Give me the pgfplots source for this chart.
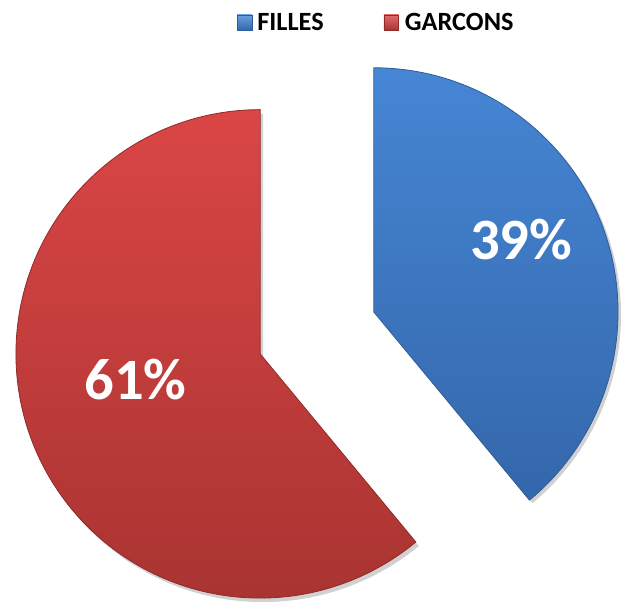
\documentclass[border=0pt]{standalone}
\usepackage{pgfplots}
\pgfplotsset{compat=1.18}
\usepackage{fontspec}
\setmainfont{Carlito}
\definecolor{bluetop}{HTML}{4686D4}
\definecolor{bluebot}{HTML}{3467AB}
\definecolor{blueedge}{HTML}{2E5C98}
\definecolor{redtop}{HTML}{DA4646}
\definecolor{redbot}{HTML}{A93431}
\definecolor{rededge}{HTML}{8E2A28}
\begin{document}
\begin{tikzpicture}
\begin{axis}[
  width=621bp, height=601bp, scale only axis,
  xmin=0, xmax=621, ymin=0, ymax=601,
  hide axis, clip=false]
\path (axis cs:0,0) rectangle (axis cs:621,601);
\def\filles{39}
\def\garcons{61}
\pgfmathsetmacro{\endang}{90-3.6*\filles}
% shadows
\fill[black!18] (axis cs:378,285) -- ++(90:245bp) arc[start angle=90, end angle=\endang, radius=245bp] -- cycle;
\fill[black!18] (axis cs:264,242) -- ++(90:245bp) arc[start angle=90, end angle={\endang+360}, radius=245bp] -- cycle;
% FILLES slice
\shade[top color=bluetop, bottom color=bluebot, draw=blueedge, line width=0.8bp]
  (axis cs:375,288) -- ++(90:245bp) arc[start angle=90, end angle=\endang, radius=245bp] -- cycle;
% GARCONS slice
\shade[top color=redtop, bottom color=redbot, draw=rededge, line width=0.8bp]
  (axis cs:261,246) -- ++(90:245bp) arc[start angle=90, end angle={\endang+360}, radius=245bp] -- cycle;
% labels
\node[text=white, font=\bfseries\fontsize{59}{61}\selectfont] at (axis cs:523,361) {\filles\%};
\node[text=white, font=\bfseries\fontsize{59}{61}\selectfont] at (axis cs:136,220) {\garcons\%};
% legend
\shade[top color=bluetop!80!white, bottom color=bluebot, draw=blueedge, line width=0.5bp] (axis cs:238,571) rectangle (axis cs:253,586);
\node[anchor=west, inner sep=0pt, font=\bfseries\fontsize{26.5}{28}\selectfont] at (axis cs:258,578.5) {FILLES};
\shade[top color=redtop!80!white, bottom color=redbot, draw=rededge, line width=0.5bp] (axis cs:385,571) rectangle (axis cs:400,586);
\node[anchor=west, inner sep=0pt, font=\bfseries\fontsize{26.5}{28}\selectfont] at (axis cs:406,578.5) {GARCONS};
\end{axis}
\end{tikzpicture}
\end{document}
